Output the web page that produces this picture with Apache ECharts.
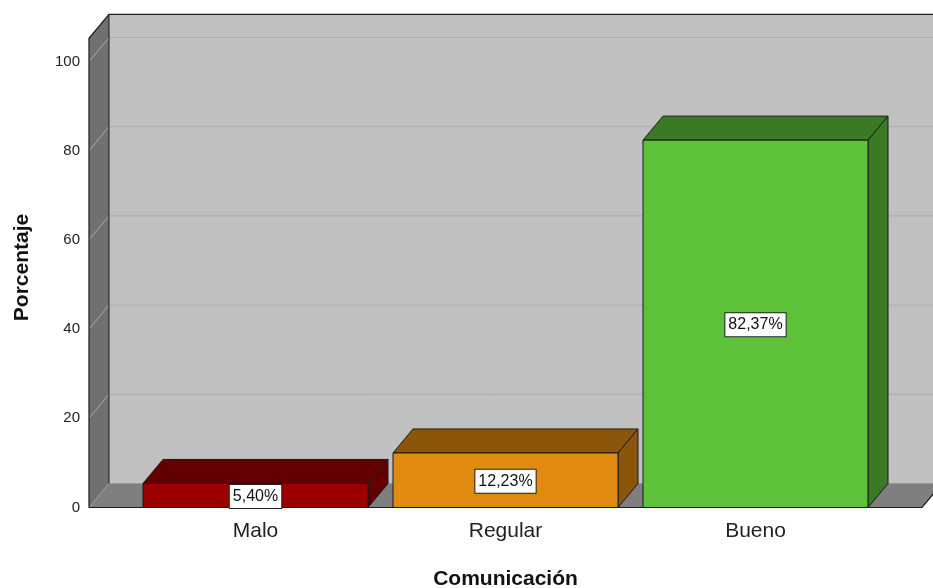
<!DOCTYPE html>
<html>
<head>
<meta charset="utf-8">
<script src="https://cdn.jsdelivr.net/npm/echarts@6/dist/echarts.min.js"></script>
<style>
  html, body { margin: 0; padding: 0; background: #fff; }
  #chart { width: 933px; height: 588px; }
</style>
</head>
<body>
<div id="chart"></div>
<script>
// Comunicación: percentage of respondents per rating level
const categories = ['Malo', 'Regular', 'Bueno'];
const percentages = [5.40, 12.23, 82.37];
const yTicks = [0, 20, 40, 60, 80, 100];

// Face colours per bar: front face, top/side faces
const frontColors = ['#9b0000', '#e08a10', '#5dc23a'];
const shadeColors = ['#620000', '#8b560a', '#3b7a24'];

// 3D look: depth offset of the back plane, in pixels
const DEPTH_X = 20;
const DEPTH_Y = -24;
const WALL_PAD = 41.5;   // gap between the left wall and the first category band
const WALL_TOP = 105.2;  // value reached by the top of the walls
const EDGE = '#1a1a1a';

const chart = echarts.init(document.getElementById('chart'));

function shift(p) { return [p[0] + DEPTH_X, p[1] + DEPTH_Y]; }

// Walls, floor and gridlines of the 3D box
function renderBox(params, api) {
  const cs = params.coordSys;
  const xL = cs.x - WALL_PAD;
  const xR = cs.x + cs.width + WALL_PAD;
  const y0 = api.coord([0, 0])[1];
  const yTop = api.coord([0, WALL_TOP])[1];
  const children = [];

  // back wall
  children.push({
    type: 'polygon',
    shape: { points: [shift([xL, y0]), shift([xR, y0]), shift([xR, yTop]), shift([xL, yTop])] },
    style: { fill: '#c0c0c0', stroke: null }
  });
  // left wall
  children.push({
    type: 'polygon',
    shape: { points: [[xL, y0], [xL, yTop], shift([xL, yTop]), shift([xL, y0])] },
    style: { fill: '#707070', stroke: null }
  });
  // floor
  children.push({
    type: 'polygon',
    shape: { points: [[xL, y0], [xR, y0], shift([xR, y0]), shift([xL, y0])] },
    style: { fill: '#7f7f7f', stroke: null }
  });
  // gridlines on the left wall and back wall
  yTicks.forEach(function (v) {
    const y = api.coord([0, v])[1];
    children.push({
      type: 'polyline',
      shape: { points: [[xL, y], shift([xL, y]), shift([xR, y])] },
      style: { stroke: v === 0 ? '#9a9a9a' : '#ababab', lineWidth: 1, fill: null }
    });
  });
  // box outlines
  children.push({
    type: 'polyline',
    shape: { points: [[xL, y0], [xL, yTop], shift([xL, yTop]), shift([xR + 40, yTop])] },
    style: { stroke: EDGE, lineWidth: 1.2, fill: null }
  });
  children.push({
    type: 'line',
    shape: { x1: xL + DEPTH_X, y1: yTop + DEPTH_Y, x2: xL + DEPTH_X, y2: y0 + DEPTH_Y },
    style: { stroke: EDGE, lineWidth: 1 }
  });
  children.push({
    type: 'polyline',
    shape: { points: [[xL, y0], [xR, y0], shift([xR, y0])] },
    style: { stroke: EDGE, lineWidth: 1.2, fill: null }
  });
  return { type: 'group', children: children };
}

// One 3D bar: front face, top face, right side face and a value label
function renderBar(params, api) {
  const idx = params.dataIndex;
  const value = api.value(1);
  const center = api.coord([api.value(0), value]);
  const base = api.coord([api.value(0), 0]);
  const w = api.size([1, 0])[0] * 0.9;
  const xl = center[0] - w / 2;
  const xr = center[0] + w / 2;
  const yt = center[1];
  const yb = base[1];
  const style = { stroke: EDGE, lineWidth: 1 };
  return {
    type: 'group',
    children: [
      {
        type: 'polygon',
        shape: { points: [[xl, yt], [xr, yt], shift([xr, yt]), shift([xl, yt])] },
        style: Object.assign({ fill: shadeColors[idx] }, style)
      },
      {
        type: 'polygon',
        shape: { points: [[xr, yt], shift([xr, yt]), shift([xr, yb]), [xr, yb]] },
        style: Object.assign({ fill: shadeColors[idx] }, style)
      },
      {
        type: 'rect',
        shape: { x: xl, y: yt, width: w, height: yb - yt },
        style: Object.assign({ fill: frontColors[idx] }, style)
      },
      {
        type: 'text',
        x: center[0],
        y: (yt + yb) / 2 + 1,
        style: {
          text: value.toFixed(2).replace('.', ',') + '%',
          align: 'center',
          verticalAlign: 'middle',
          fontFamily: 'Liberation Sans, Arial, sans-serif',
          fontSize: 16,
          fill: '#111',
          backgroundColor: '#ffffff',
          borderColor: '#222',
          borderWidth: 1,
          padding: [4, 3, 3, 3]
        }
      }
    ]
  };
}

chart.setOption({
  animation: false,
  backgroundColor: '#ffffff',
  grid: {
    left: 130.5, right: 52.5, top: 61.5, bottom: 80.5,
    containLabel: false,
    outerBoundsMode: 'none'
  },
  xAxis: {
    type: 'category',
    data: categories,
    name: 'Comunicación',
    nameLocation: 'middle',
    nameGap: 61,
    nameTextStyle: { fontFamily: 'Liberation Sans, Arial, sans-serif', fontSize: 21, fontWeight: 'bold', color: '#111' },
    axisLine: { show: false },
    axisTick: { show: false },
    axisLabel: { margin: 13, fontFamily: 'Liberation Sans, Arial, sans-serif', fontSize: 21, color: '#222' },
    splitLine: { show: false }
  },
  yAxis: {
    type: 'value',
    min: yTicks[0],
    max: yTicks[yTicks.length - 1],
    interval: 20,
    offset: WALL_PAD,
    name: 'Porcentaje',
    nameLocation: 'middle',
    nameRotate: 90,
    nameGap: 56,
    nameTextStyle: {
      fontFamily: 'Liberation Sans, Arial, sans-serif', fontSize: 21, fontWeight: 'bold', color: '#111',
      padding: [0, 0, 0, 34]
    },
    axisLine: { show: false },
    axisTick: { show: false },
    axisLabel: { margin: 9, fontFamily: 'Liberation Sans, Arial, sans-serif', fontSize: 15, color: '#222' },
    splitLine: { show: false }
  },
  series: [
    {
      type: 'custom',
      renderItem: renderBox,
      data: [[0, 0]],
      clip: false,
      z: 1,
      silent: true
    },
    {
      type: 'custom',
      renderItem: renderBar,
      data: categories.map(function (c, i) { return [i, percentages[i]]; }),
      clip: false,
      z: 2
    }
  ]
});
</script>
</body>
</html>
